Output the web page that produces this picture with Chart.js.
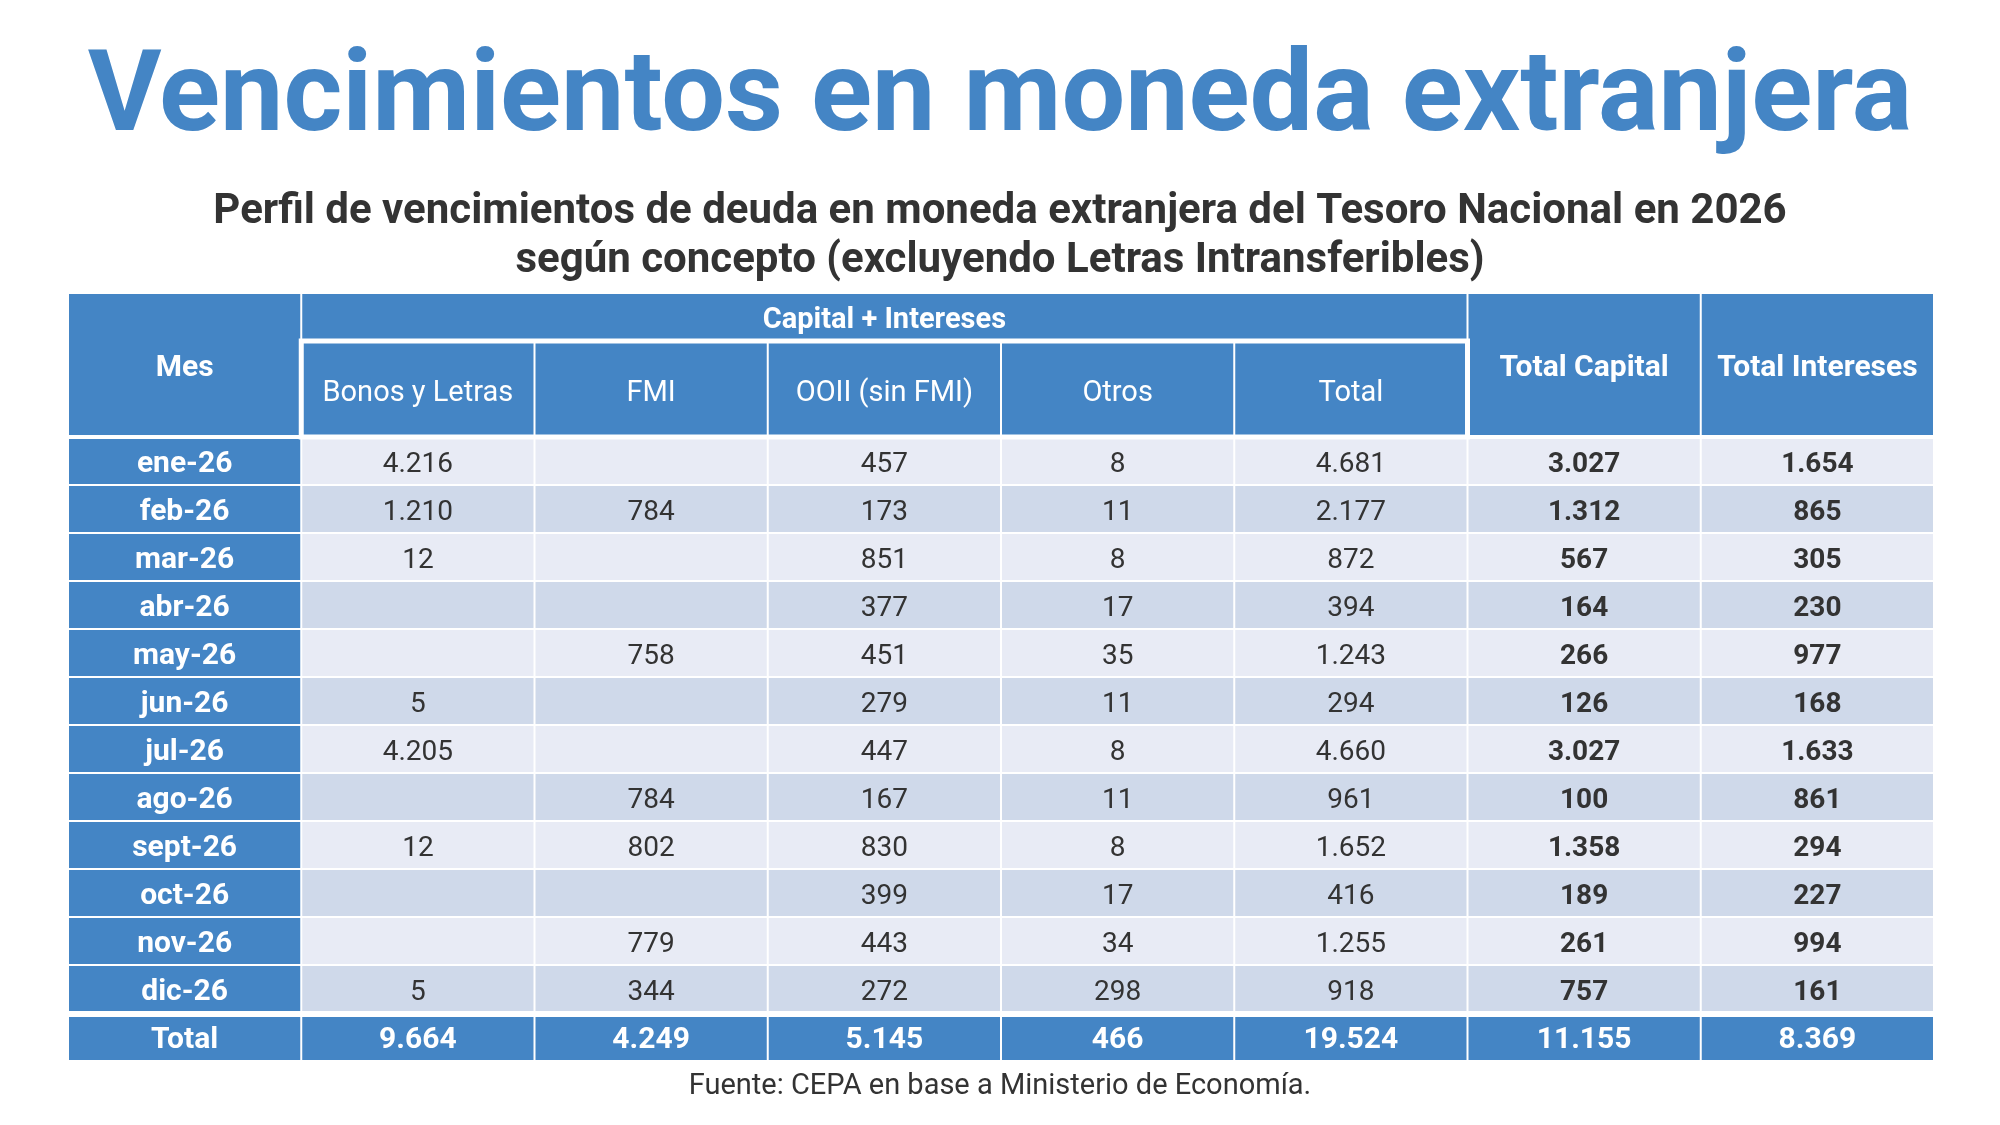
<!DOCTYPE html>
<html>
<head>
<meta charset="utf-8">
<script src="https://cdn.jsdelivr.net/npm/chart.js@4"></script>
<style>
  html, body { margin: 0; padding: 0; background: #ffffff; }
  #wrap { width: 2000px; height: 1125px; position: relative; }
</style>
</head>
<body>
<div id="wrap"><canvas id="tabla"></canvas></div>
<script>
// Datos (millones de USD)
const meses = ['ene-26', 'feb-26', 'mar-26', 'abr-26', 'may-26', 'jun-26',
    'jul-26', 'ago-26', 'sept-26', 'oct-26', 'nov-26', 'dic-26'];
const columnas = ['Bonos y Letras', 'FMI', 'OOII (sin FMI)', 'Otros', 'Total', 'Total Capital', 'Total Intereses'];
const bonosLetras = [4216, 1210, 12, null, null, 5, 4205, null, 12, null, null, 5];
const fmi = [null, 784, null, null, 758, null, null, 784, 802, null, 779, 344];
const ooii = [457, 173, 851, 377, 451, 279, 447, 167, 830, 399, 443, 272];
const otros = [8, 11, 8, 17, 35, 11, 8, 11, 8, 17, 34, 298];
const totalMes = [4681, 2177, 872, 394, 1243, 294, 4660, 961, 1652, 416, 1255, 918];
const totalCapital = [3027, 1312, 567, 164, 266, 126, 3027, 100, 1358, 189, 261, 757];
const totalIntereses = [1654, 865, 305, 230, 977, 168, 1633, 861, 294, 227, 994, 161];
const totalesAnio = [9664, 4249, 5145, 466, 19524, 11155, 8369];

const AZUL = '#4485c5';
const FILA_CLARA = '#e8ebf5';
const FILA_OSCURA = '#cfd9ea';
const TEXTO = '#333333';
const FUENTE = 'Roboto, "Noto Sans", sans-serif';

// filas: 0-3 encabezado, 3-15 meses, 15-16 total
const FILA_INICIO = 3;
const FILA_TOTAL = 15;

function formato(v) {
    return String(v).replace(/\B(?=(\d{3})+(?!\d))/g, '.');
}

function puntos(valores, col, total) {
    const pts = [];
    valores.forEach(function (v, i) {
        if (v !== null) pts.push({x: col + 0.5, y: FILA_INICIO + i + 0.5, v: v, total: false});
    });
    pts.push({x: col + 0.5, y: FILA_TOTAL + 0.5, v: total, total: true});
    return pts;
}

const series = [bonosLetras, fmi, ooii, otros, totalMes, totalCapital, totalIntereses];
const datasets = [{
    label: 'Mes',
    data: meses.map(function (m, i) {
        return {x: 0.5, y: FILA_INICIO + i + 0.5, v: m, total: false};
    }).concat([{x: 0.5, y: FILA_TOTAL + 0.5, v: 'Total', total: true}]),
    pointRadius: 0
}];
series.forEach(function (s, k) {
    datasets.push({label: columnas[k], data: puntos(s, k + 1, totalesAnio[k]), pointRadius: 0});
});

function texto(ctx, str, x, y, size, weight, color) {
    ctx.font = weight + ' ' + size + 'px ' + FUENTE;
    ctx.fillStyle = color;
    ctx.textAlign = 'center';
    ctx.textBaseline = 'alphabetic';
    ctx.fillText(str, x, y);
}

const tablaPlugin = {
    id: 'tabla',
    beforeDatasetsDraw(chart) {
        const ctx = chart.ctx;
        const x = chart.scales.x, y = chart.scales.y;
        const px = function (v) { return x.getPixelForValue(v); };
        const py = function (v) { return y.getPixelForValue(v); };
        function celda(c0, c1, r0, r1, color) {
            const l = px(c0) + 1, r = px(c1) - 1, t = py(r0) + 1, b = py(r1) - 1;
            ctx.fillStyle = color;
            ctx.fillRect(l, t, r - l, b - t);
        }
        ctx.save();
        // encabezado
        celda(0, 1, 0, 3, AZUL);
        celda(1, 6, 0, 1, AZUL);
        for (let c = 1; c < 6; c++) celda(c, c + 1, 1, 3, AZUL);
        celda(6, 7, 0, 3, AZUL);
        celda(7, 8, 0, 3, AZUL);
        // filas de meses
        meses.forEach(function (m, i) {
            const r = FILA_INICIO + i;
            celda(0, 1, r, r + 1, AZUL);
            for (let c = 1; c < 8; c++) celda(c, c + 1, r, r + 1, i % 2 === 0 ? FILA_CLARA : FILA_OSCURA);
        });
        // fila total
        for (let c = 0; c < 8; c++) celda(c, c + 1, FILA_TOTAL, FILA_TOTAL + 1, AZUL);

        // separadores blancos
        ctx.strokeStyle = '#ffffff';
        ctx.lineWidth = 5;
        ctx.strokeRect(px(1), py(1), px(6) - px(1), py(3) - py(1));
        ctx.lineWidth = 4;
        ctx.beginPath();
        ctx.moveTo(px(0), py(FILA_INICIO));
        ctx.lineTo(px(8), py(FILA_INICIO));
        ctx.stroke();
        ctx.lineWidth = 6;
        ctx.beginPath();
        ctx.moveTo(px(0), py(FILA_TOTAL) + 1);
        ctx.lineTo(px(8), py(FILA_TOTAL) + 1);
        ctx.stroke();

        // textos del encabezado
        const midY = function (r0, r1) { return (py(r0) + py(r1)) / 2; };
        const midX = function (c0, c1) { return (px(c0) + px(c1)) / 2; };
        texto(ctx, 'Mes', midX(0, 1), midY(0, 3) + 11, 30, 'bold', '#ffffff');
        texto(ctx, 'Capital + Intereses', midX(1, 6), midY(0, 1) + 11, 29, 'bold', '#ffffff');
        for (let c = 1; c < 6; c++) {
            texto(ctx, columnas[c - 1], midX(c, c + 1), midY(1, 3) + 12, 29, 'normal', '#ffffff');
        }
        texto(ctx, columnas[5], midX(6, 7), midY(0, 3) + 11, 30, 'bold', '#ffffff');
        texto(ctx, columnas[6], midX(7, 8), midY(0, 3) + 11, 30, 'bold', '#ffffff');
        ctx.restore();
    },
    afterDatasetsDraw(chart) {
        const ctx = chart.ctx;
        ctx.save();
        chart.data.datasets.forEach(function (ds, k) {
            const meta = chart.getDatasetMeta(k);
            meta.data.forEach(function (pt, j) {
                const d = ds.data[j];
                const str = typeof d.v === 'number' ? formato(d.v) : d.v;
                if (d.total) {
                    texto(ctx, str, pt.x, pt.y + 11, 30, 'bold', '#ffffff');
                } else if (k === 0) {
                    texto(ctx, str, pt.x, pt.y + 11, 30, 'bold', '#ffffff');
                } else {
                    texto(ctx, str, pt.x, pt.y + 11, 28, k >= 6 ? 'bold' : 'normal', TEXTO);
                }
            });
        });

        // titulos y fuente
        const w = chart.width;
        texto(ctx, 'Vencimientos en moneda extranjera', w / 2, 130, 113, 'bold', AZUL);
        texto(ctx, 'Perfil de vencimientos de deuda en moneda extranjera del Tesoro Nacional en 2026', w / 2, 223, 42, 'bold', TEXTO);
        texto(ctx, 'según concepto (excluyendo Letras Intransferibles)', w / 2, 272, 42, 'bold', TEXTO);
        texto(ctx, 'Fuente: CEPA en base a Ministerio de Economía.', w / 2, 1094, 29, 'normal', TEXTO);
        ctx.restore();
    }
};

new Chart(document.getElementById('tabla').getContext('2d'), {
    type: 'scatter',
    data: {datasets: datasets},
    options: {
        responsive: true,
        maintainAspectRatio: false,
        animation: false,
        layout: {padding: {left: 68, right: 66, top: 293, bottom: 64}},
        scales: {
            x: {type: 'linear', min: 0, max: 8, display: false},
            y: {type: 'linear', min: 0, max: 16, reverse: true, display: false}
        },
        plugins: {
            legend: {display: false},
            tooltip: {enabled: false}
        }
    },
    plugins: [tablaPlugin]
});
</script>
</body>
</html>
